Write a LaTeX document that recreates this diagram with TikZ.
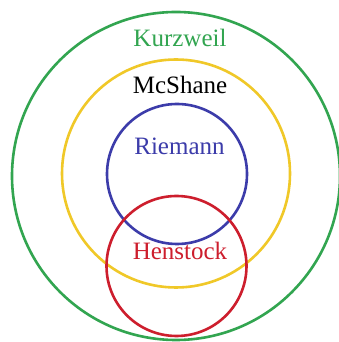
\documentclass[tikz,border=0pt]{standalone}
\usepackage{fontspec}
\setmainfont{Liberation Serif}
\definecolor{kgreen}{RGB}{50,165,80}
\definecolor{myellow}{RGB}{240,200,40}
\definecolor{rblue}{RGB}{60,60,170}
\definecolor{hred}{RGB}{205,30,45}
\begin{document}
\begin{tikzpicture}[x=1pt,y=1pt,
  ring/.style={line width=2.6pt},
  lbl/.style={anchor=base,inner sep=0pt,font=\fontsize{25}{30}\selectfont}]
\useasboundingbox (0,0) rectangle (339,342);
\fill[white] (0,0) rectangle (339,342);
\draw[ring,kgreen] (176,166) circle (164);
\draw[ring,myellow] (176,168.5) circle (114);
\draw[ring,rblue] (177,168) circle (70);
\draw[ring,hred] (176.5,76) circle (70);
\node[lbl,text=kgreen] (k) at (180,295.5) {Kurzweil};
\node[lbl,text=black] (m) at (180,248) {McShane};
\node[lbl,text=rblue] (r) at (179.5,187) {Riemann};
\node[lbl,text=hred] (h) at (180,82) {Henstock};
\end{tikzpicture}
\end{document}
